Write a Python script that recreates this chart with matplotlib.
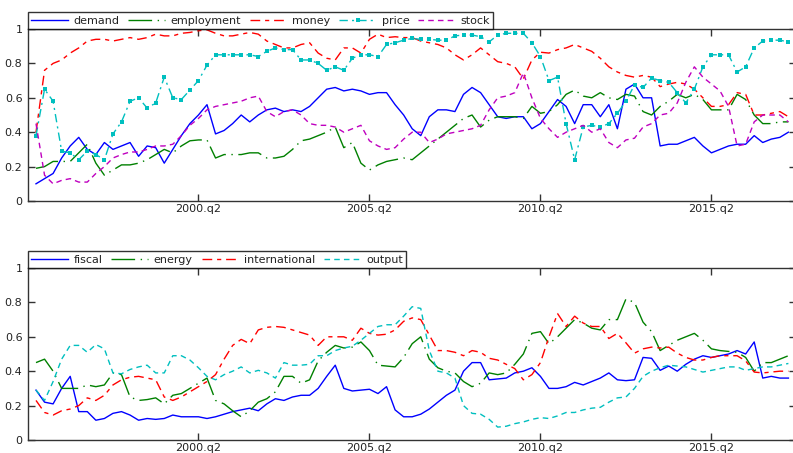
import numpy as np
import pandas as pd
import matplotlib
matplotlib.use("Agg")
from matplotlib import pyplot as plt

plt.rcParams['font.family'] = ['DejaVu Sans']
plt.rcParams['font.size'] = 8
plt.rcParams['lines.scale_dashes'] = False

# quarterly index 1995q3 .. 2017q3
quarters = pd.period_range('1995Q3', '2017Q3', freq='Q')
tick_years = [2000, 2005, 2010, 2015]

# %% top panel series
demand = [0.10, 0.13, 0.16, 0.25, 0.32, 0.37, 0.30, 0.27, 0.34, 0.30,
          0.32, 0.34, 0.26, 0.32, 0.31, 0.22, 0.30, 0.38, 0.45, 0.50,
          0.56, 0.39, 0.41, 0.45, 0.50, 0.46, 0.50, 0.53, 0.54, 0.52,
          0.53, 0.52, 0.55, 0.60, 0.65, 0.66, 0.64, 0.65, 0.64, 0.62,
          0.63, 0.63, 0.56, 0.50, 0.42, 0.38, 0.49, 0.53, 0.53, 0.52,
          0.62, 0.66, 0.63, 0.56, 0.49, 0.48, 0.49, 0.49, 0.42, 0.45,
          0.52, 0.59, 0.55, 0.45, 0.56, 0.56, 0.49, 0.56, 0.42, 0.65,
          0.68, 0.60, 0.60, 0.32, 0.33, 0.33, 0.35, 0.37, 0.32, 0.28,
          0.30, 0.32, 0.33, 0.33, 0.38, 0.34, 0.36, 0.37, 0.40]
employment = [0.19, 0.20, 0.23, 0.23, 0.23, 0.28, 0.33, 0.22, 0.15, 0.18,
              0.21, 0.21, 0.22, 0.24, 0.27, 0.30, 0.28, 0.32, 0.35, 0.355,
              0.355, 0.25, 0.27, 0.27, 0.27, 0.28, 0.28, 0.25, 0.25, 0.26,
              0.30, 0.35, 0.36, 0.38, 0.40, 0.43, 0.31, 0.34, 0.22, 0.18,
              0.21, 0.23, 0.24, 0.25, 0.24, 0.28, 0.32, 0.36, 0.40, 0.44,
              0.48, 0.50, 0.43, 0.47, 0.49, 0.49, 0.49, 0.48, 0.55, 0.51,
              0.52, 0.56, 0.62, 0.645, 0.61, 0.60, 0.63, 0.60, 0.59, 0.62,
              0.61, 0.52, 0.50, 0.55, 0.58, 0.62, 0.60, 0.62, 0.59, 0.53,
              0.53, 0.53, 0.62, 0.59, 0.50, 0.45, 0.45, 0.46, 0.46]
money = [0.40, 0.76, 0.80, 0.82, 0.86, 0.89, 0.93, 0.94, 0.94, 0.93,
         0.94, 0.95, 0.94, 0.95, 0.97, 0.96, 0.96, 0.975, 0.98, 0.99,
         0.995, 0.975, 0.96, 0.96, 0.97, 0.98, 0.97, 0.93, 0.91, 0.89,
         0.89, 0.91, 0.92, 0.86, 0.83, 0.82, 0.89, 0.89, 0.86, 0.94,
         0.97, 0.95, 0.955, 0.95, 0.95, 0.93, 0.92, 0.91, 0.89, 0.85,
         0.82, 0.85, 0.89, 0.85, 0.81, 0.80, 0.78, 0.71, 0.82, 0.865,
         0.86, 0.88, 0.89, 0.91, 0.89, 0.87, 0.83, 0.78, 0.75, 0.73,
         0.72, 0.73, 0.72, 0.665, 0.68, 0.69, 0.68, 0.65, 0.60, 0.55,
         0.55, 0.56, 0.63, 0.62, 0.50, 0.50, 0.51, 0.52, 0.49]
price = [0.38, 0.65, 0.58, 0.29, 0.28, 0.24, 0.29, 0.27, 0.24, 0.39,
         0.46, 0.58, 0.60, 0.54, 0.57, 0.72, 0.60, 0.59, 0.645, 0.70,
         0.79, 0.85, 0.85, 0.85, 0.85, 0.85, 0.84, 0.87, 0.89, 0.88,
         0.88, 0.82, 0.82, 0.80, 0.76, 0.78, 0.76, 0.83, 0.85, 0.85,
         0.84, 0.91, 0.92, 0.935, 0.945, 0.94, 0.94, 0.935, 0.935, 0.96,
         0.965, 0.965, 0.955, 0.925, 0.965, 0.975, 0.975, 0.975, 0.92, 0.84,
         0.70, 0.72, 0.45, 0.24, 0.43, 0.44, 0.43, 0.45, 0.51, 0.58,
         0.675, 0.66, 0.715, 0.70, 0.69, 0.63, 0.57, 0.65, 0.78, 0.85,
         0.85, 0.85, 0.75, 0.78, 0.89, 0.93, 0.935, 0.935, 0.925]
stock = [0.45, 0.15, 0.10, 0.12, 0.13, 0.11, 0.11, 0.16, 0.20, 0.25,
         0.27, 0.285, 0.285, 0.30, 0.32, 0.32, 0.33, 0.38, 0.44, 0.48,
         0.53, 0.55, 0.56, 0.57, 0.58, 0.60, 0.61, 0.52, 0.49, 0.52,
         0.53, 0.50, 0.45, 0.44, 0.44, 0.43, 0.40, 0.42, 0.44, 0.35,
         0.32, 0.30, 0.31, 0.36, 0.40, 0.40, 0.34, 0.36, 0.39, 0.40,
         0.41, 0.42, 0.44, 0.53, 0.60, 0.61, 0.63, 0.745, 0.60, 0.48,
         0.42, 0.37, 0.40, 0.42, 0.44, 0.40, 0.42, 0.34, 0.31, 0.355,
         0.365, 0.43, 0.45, 0.50, 0.51, 0.57, 0.69, 0.78, 0.72, 0.68,
         0.64, 0.55, 0.32, 0.33, 0.46, 0.50, 0.50, 0.50, 0.46]

# %% bottom panel series
fiscal = [0.29, 0.22, 0.21, 0.30, 0.37, 0.165, 0.165, 0.115, 0.125, 0.155,
          0.165, 0.145, 0.115, 0.125, 0.12, 0.125, 0.145, 0.135, 0.135, 0.135,
          0.125, 0.135, 0.15, 0.165, 0.175, 0.185, 0.17, 0.21, 0.24, 0.23,
          0.25, 0.26, 0.26, 0.30, 0.37, 0.435, 0.30, 0.285, 0.29, 0.295,
          0.27, 0.31, 0.175, 0.135, 0.135, 0.15, 0.18, 0.22, 0.26, 0.29,
          0.40, 0.45, 0.45, 0.35, 0.355, 0.36, 0.39, 0.40, 0.42, 0.37,
          0.30, 0.30, 0.31, 0.335, 0.32, 0.34, 0.36, 0.39, 0.35, 0.345,
          0.35, 0.48, 0.475, 0.405, 0.43, 0.40, 0.44, 0.47, 0.49, 0.48,
          0.49, 0.50, 0.52, 0.50, 0.57, 0.36, 0.37, 0.36, 0.36]
energy = [0.45, 0.47, 0.40, 0.30, 0.30, 0.30, 0.32, 0.31, 0.32, 0.39,
          0.38, 0.25, 0.23, 0.235, 0.245, 0.21, 0.26, 0.27, 0.30, 0.33,
          0.36, 0.23, 0.21, 0.17, 0.135, 0.17, 0.22, 0.24, 0.28, 0.37,
          0.37, 0.33, 0.35, 0.46, 0.51, 0.55, 0.535, 0.54, 0.57, 0.52,
          0.435, 0.43, 0.425, 0.48, 0.56, 0.60, 0.47, 0.42, 0.40, 0.39,
          0.34, 0.31, 0.33, 0.39, 0.38, 0.39, 0.44, 0.50, 0.62, 0.63,
          0.56, 0.60, 0.65, 0.70, 0.68, 0.65, 0.64, 0.70, 0.70, 0.82,
          0.80, 0.685, 0.63, 0.52, 0.55, 0.58, 0.60, 0.62, 0.58, 0.53,
          0.52, 0.515, 0.51, 0.48, 0.40, 0.45, 0.45, 0.47, 0.49]
international = [0.23, 0.16, 0.145, 0.17, 0.18, 0.20, 0.245, 0.23, 0.26, 0.32,
                 0.35, 0.365, 0.37, 0.36, 0.35, 0.25, 0.23, 0.25, 0.28, 0.31,
                 0.34, 0.38, 0.47, 0.55, 0.585, 0.56, 0.64, 0.655, 0.66, 0.655,
                 0.64, 0.625, 0.61, 0.55, 0.60, 0.60, 0.60, 0.58, 0.65, 0.62,
                 0.61, 0.615, 0.64, 0.69, 0.71, 0.70, 0.61, 0.52, 0.52, 0.51,
                 0.49, 0.52, 0.51, 0.475, 0.465, 0.44, 0.415, 0.35, 0.38, 0.45,
                 0.60, 0.735, 0.66, 0.72, 0.68, 0.66, 0.66, 0.59, 0.62, 0.565,
                 0.505, 0.53, 0.54, 0.535, 0.54, 0.505, 0.48, 0.465, 0.465, 0.48,
                 0.49, 0.49, 0.49, 0.46, 0.395, 0.39, 0.395, 0.40, 0.40]
output = [0.29, 0.23, 0.34, 0.47, 0.55, 0.55, 0.51, 0.555, 0.53, 0.39,
          0.385, 0.41, 0.425, 0.435, 0.39, 0.39, 0.49, 0.49, 0.465, 0.42,
          0.37, 0.35, 0.38, 0.40, 0.425, 0.39, 0.405, 0.39, 0.36, 0.45,
          0.435, 0.435, 0.44, 0.49, 0.49, 0.52, 0.535, 0.545, 0.58, 0.62,
          0.66, 0.67, 0.67, 0.72, 0.775, 0.765, 0.52, 0.40, 0.39, 0.36,
          0.20, 0.155, 0.15, 0.12, 0.075, 0.08, 0.095, 0.105, 0.12, 0.13,
          0.125, 0.14, 0.16, 0.16, 0.175, 0.185, 0.19, 0.22, 0.245, 0.25,
          0.30, 0.37, 0.40, 0.42, 0.435, 0.43, 0.425, 0.41, 0.395, 0.405,
          0.415, 0.425, 0.425, 0.405, 0.415, 0.425, 0.425, 0.435, 0.445]

x = np.arange(len(quarters))
tick_pos = [i for i, q in enumerate(quarters) if q.quarter == 2 and q.year in tick_years]
tick_lab = [f"{quarters[i].year}.q2" for i in tick_pos]

# line looks (dashes in points)
long_dot = (17, 4, 1, 4)
dash_short = (7, 3.5, 3, 3.5)
top = [("demand", demand, dict(color='b')),
       ("employment", employment, dict(color='g', dashes=long_dot)),
       ("money", money, dict(color='r', dashes=dash_short)),
       ("price", price, dict(color='c', dashes=(6, 3, 1.5, 3), marker='s', ms=2.3, mew=0)),
       ("stock", stock, dict(color='m', dashes=(4, 3)))]
bottom = [("fiscal", fiscal, dict(color='b')),
          ("energy", energy, dict(color='g', dashes=long_dot)),
          ("international", international, dict(color='r', dashes=dash_short)),
          ("output", output, dict(color='c', dashes=(4, 3)))]

W, H = 793, 453
fig = plt.figure(figsize=(W / 100, H / 100), dpi=100)
ax_left, ax_right = 28, 796
x0 = -(36 - ax_left) / 8.55
x1 = (ax_right - 36) / 8.55


def panel(y_top, y_bot, series):
    ax = fig.add_axes([ax_left / W, 1 - y_bot / H, (ax_right - ax_left) / W, (y_bot - y_top) / H])
    for name, vals, st in series:
        ax.plot(x, vals, lw=1.0, label=name, **st)
    ax.set_xlim(x0, x1)
    ax.set_ylim(0, 1)
    ax.set_yticks([0, 0.2, 0.4, 0.6, 0.8, 1])
    ax.set_yticklabels(["0", "0.2", "0.4", "0.6", "0.8", "1"])
    ax.set_xticks(tick_pos)
    ax.set_xticklabels(tick_lab)
    ax.tick_params(direction='in', length=5, width=1, top=True, right=True,
                   colors='#333333', labelcolor='#222222', labelsize=8, pad=4)
    ax.tick_params(axis='x', pad=2.5)
    for s in ax.spines.values():
        s.set_color('#333333')
        s.set_linewidth(1.0)
    leg = ax.legend(loc='lower left', bbox_to_anchor=(0, 1), ncol=len(series),
                    frameon=True, fancybox=False, edgecolor='black', borderaxespad=0,
                    handlelength=3.3, handletextpad=0.5, columnspacing=0.8,
                    borderpad=0.3, numpoints=1, fontsize=8)
    leg.get_frame().set_linewidth(1.0)
    for t in leg.get_texts():
        t.set_color('#222222')
    return ax


panel(29, 201, top)
panel(268, 440, bottom)

fig.savefig("out.png", dpi=100)
